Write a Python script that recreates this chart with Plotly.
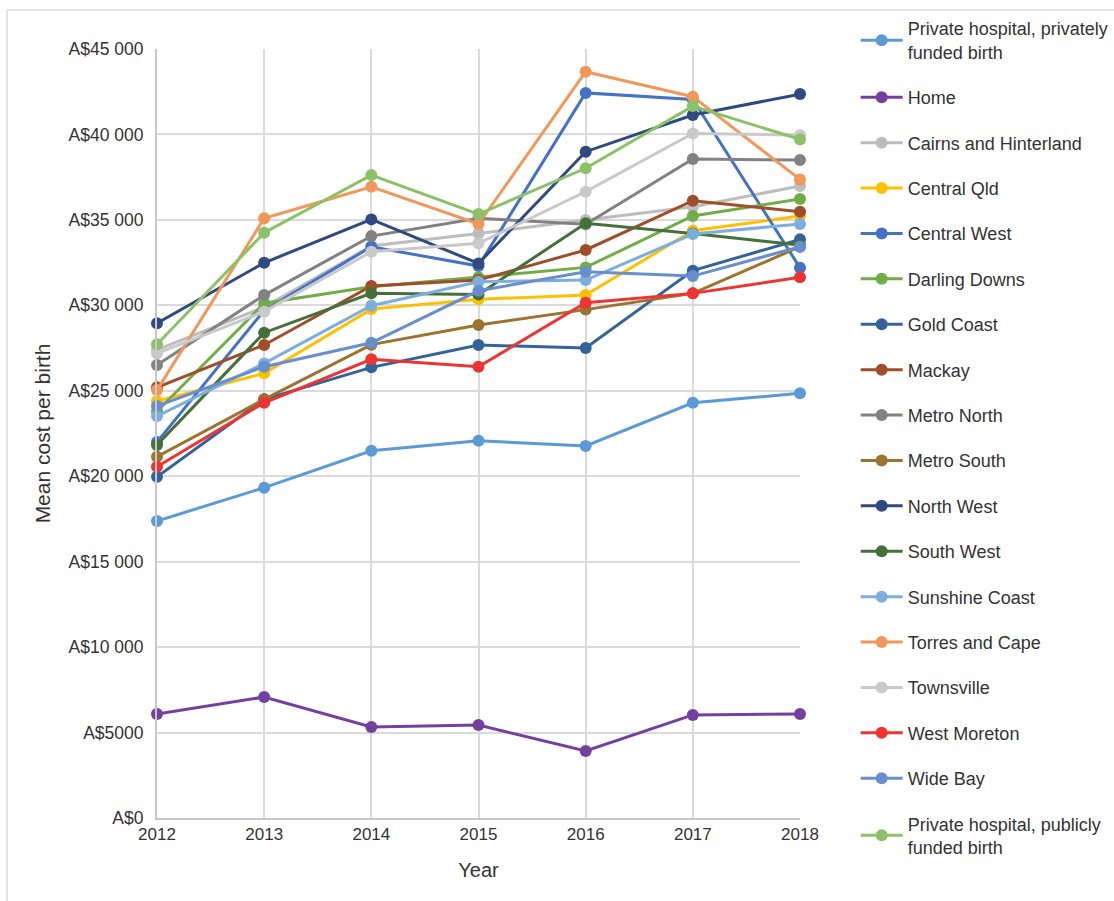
import plotly.graph_objects as go

# Mean cost per birth by place of birth / hospital and health service, 2012-2018
years = [2012, 2013, 2014, 2015, 2016, 2017, 2018]

series_names = [
    "Private hospital, privately<br>funded birth",
    "Home",
    "Cairns and Hinterland",
    "Central Qld",
    "Central West",
    "Darling Downs",
    "Gold Coast",
    "Mackay",
    "Metro North",
    "Metro South",
    "North West",
    "South West",
    "Sunshine Coast",
    "Torres and Cape",
    "Townsville",
    "West Moreton",
    "Wide Bay",
    "Private hospital, publicly<br>funded birth",
]

private_privately = [17380, 19330, 21490, 22080, 21770, 24300, 24850]
home = [6085, 7080, 5325, 5440, 3920, 6030, 6085]
cairns_hinterland = [27400, 29900, 33470, 34210, 35000, 35770, 36980]
central_qld = [24400, 26020, 29780, 30350, 30600, 34370, 35230]
central_west = [22000, 29700, 33430, 32300, 42430, 42050, 32200]
darling_downs = [23800, 30120, 31090, 31640, 32220, 35230, 36220]
gold_coast = [19970, 24500, 26370, 27680, 27500, 32030, 33860]
mackay = [25200, 27680, 31130, 31480, 33240, 36120, 35480]
metro_north = [26510, 30600, 34050, 35090, 34750, 38560, 38500]
metro_south = [21140, 24500, 27700, 28850, 29750, 30700, 33430]
north_west = [28950, 32490, 35030, 32450, 38990, 41140, 42360]
south_west = [21830, 28400, 30700, 30640, 34800, 34200, 33530]
sunshine_coast = [23520, 26600, 29980, 31380, 31480, 34170, 34760]
torres_cape = [25040, 35090, 36940, 34760, 43670, 42210, 37370]
townsville = [27190, 29630, 33140, 33630, 36650, 40060, 39960]
west_moreton = [20560, 24300, 26840, 26410, 30150, 30700, 31640]
wide_bay = [24110, 26410, 27810, 30850, 31970, 31710, 33430]
private_publicly = [27720, 34250, 37620, 35340, 38020, 41660, 39710]

series_values = [
    private_privately, home, cairns_hinterland, central_qld, central_west,
    darling_downs, gold_coast, mackay, metro_north, metro_south, north_west,
    south_west, sunshine_coast, torres_cape, townsville, west_moreton,
    wide_bay, private_publicly,
]

series_colors = [
    "#5B9BD5", "#7340A0", "#BDBDBD", "#FFC000", "#4472C4", "#70AD47",
    "#33639B", "#A04E2A", "#828282", "#9B7530", "#2E4A80", "#46703A",
    "#7CAFDD", "#F1975A", "#C9C9C9", "#EE3333", "#698ED0", "#8CC168",
]

y_tick_vals = [0, 5000, 10000, 15000, 20000, 25000, 30000, 35000, 40000, 45000]
y_tick_text = ["A$0", "A$5000", "A$10 000", "A$15 000", "A$20 000",
               "A$25 000", "A$30 000", "A$35 000", "A$40 000", "A$45 000"]

FONT = "Liberation Sans, Arial, sans-serif"
TEXT = "#333333"

fig = go.Figure()
for i, (name, vals, col) in enumerate(zip(series_names, series_values, series_colors)):
    fig.add_trace(go.Scatter(
        x=years, y=vals, name=name, mode="lines+markers",
        line=dict(color=col, width=3),
        marker=dict(color=col, size=12),
        legendgroup=f"g{i}",
        cliponaxis=False,
    ))

# light frame around the whole graphic
fig.add_shape(type="rect", xref="paper", yref="paper",
              x0=-0.2333, x1=1.52, y0=-0.15, y1=1.0507,
              line=dict(color="#E3E3E3", width=2), fillcolor="rgba(0,0,0,0)",
              layer="below")

fig.update_layout(
    width=1114, height=901,
    margin=dict(l=157, r=314, t=49, b=83, autoexpand=False),
    paper_bgcolor="white", plot_bgcolor="white",
    font=dict(family=FONT, size=17, color=TEXT),
    showlegend=True,
    legend=dict(
        x=1.0866, xanchor="left", y=1.0504, yanchor="top",
        font=dict(family=FONT, size=18, color=TEXT),
        tracegroupgap=19, itemwidth=42,
        maxheight=1200,
        bgcolor="rgba(0,0,0,0)",
    ),
    xaxis=dict(
        range=[2012, 2018], tickvals=years, ticktext=[str(y) for y in years],
        showgrid=True, gridcolor="#DADADA", gridwidth=1.5,
        showline=True, linecolor="#C8C8C8", linewidth=2,
        zeroline=False, ticks="",
        tickfont=dict(family=FONT, size=17, color=TEXT),
        title=dict(text="Year", font=dict(family=FONT, size=20, color=TEXT), standoff=20),
    ),
    yaxis=dict(
        range=[0, 45000], tickvals=y_tick_vals, ticktext=y_tick_text,
        showgrid=True, gridcolor="#DADADA", gridwidth=1.5,
        showline=True, linecolor="#C8C8C8", linewidth=2,
        zeroline=False, ticks="",
        tickfont=dict(family=FONT, size=17.5, color=TEXT),
        ticklabelstandoff=8,
        title=dict(text="Mean cost per birth", font=dict(family=FONT, size=21, color=TEXT), standoff=12),
    ),
)

fig.write_html("out.html")
